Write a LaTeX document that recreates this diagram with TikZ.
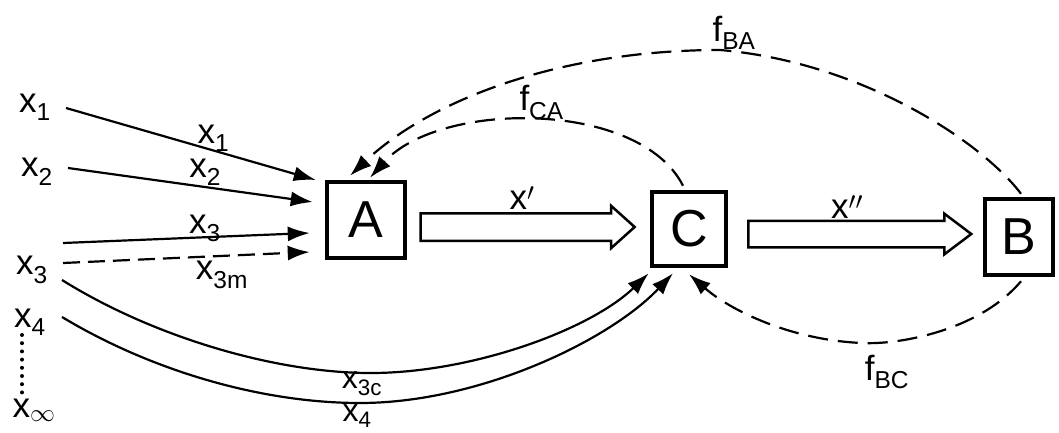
\documentclass[tikz,border=0pt]{standalone}
\usepackage{fontspec}
\setmainfont{Liberation Sans}
\usetikzlibrary{arrows.meta,shapes.arrows,calc}

\begin{document}
\begin{tikzpicture}[x=1pt,y=-1pt,
   every node/.style={font=\fontsize{35}{40}\selectfont,inner sep=0pt},
   blok/.style={draw,line width=4.5pt,minimum width=78pt,minimum height=78pt,
      font=\fontsize{52}{56}\selectfont},
   fat/.style={draw,line width=2.5pt,single arrow,inner xsep=0pt,inner ysep=12.5pt,
      single arrow head extend=7.5pt},
   flow/.style={line width=2.2pt,-{Latex[length=22pt,width=15pt]}},
   fb/.style={flow,dash pattern=on 20pt off 10pt},
   low/.style={font=\fontsize{32}{36}\selectfont}]
\useasboundingbox (0,0) rectangle (1059,433);
% boxes
\node[blok,minimum height=76pt] (A) at (366,220) {A};
\node[blok,minimum width=74pt,minimum height=74pt] (C) at (689,229) {C};
\node[blok,minimum width=68pt,minimum height=76pt] (B) at (1019,237) {B};
% inputs
\node (in1) at (35,107) {x\textsubscript{1}};
\node (in2) at (37,172) {x\textsubscript{2}};
\node (in3) at (32,270) {x\textsubscript{3}};
\node (in4) at (30,322) {x\textsubscript{4}};
\node (inf) at (34,410) {x\textsubscript{$\infty$}};
\foreach \k in {0,...,7}
  \fill (22,335+8.2*\k) circle (2pt);
\draw[flow] ($(in1.east)+(15,1)$) -- ($(A.west)+(-9,-40)$)
   node[pos=0.59,yshift=12pt] {x\textsubscript{1}};
\draw[flow] ($(in2.east)+(15,-4)$) -- ($(A.west)+(-12,-18)$)
   node[pos=0.56,yshift=15pt] {x\textsubscript{2}};
\draw[flow] ($(in3.east)+(15,-27)$) -- ($(A.west)+(-15,13)$)
   node[pos=0.575,yshift=9pt] {x\textsubscript{3}};
\draw[flow,dash pattern=on 17pt off 8pt] ($(in3.east)+(15,-7)$) -- ($(A.west)+(-15,32)$)
   node[pos=0.644,yshift=-19pt] {x\textsubscript{3m}};
\draw[flow] ($(in3.east)+(14,10)$) .. controls (150,335) and (270,372) .. (367,373)
   node[low,pos=1,xshift=-5pt,yshift=-11pt] {x\textsubscript{3c}}
   .. controls (470,374) and (590,330) .. ($(C.south west)+(-1,5)$);
\draw[flow] ($(in4.east)+(16,-5)$) .. controls (150,370) and (260,403) .. (360,403)
   node[low,pos=1,xshift=-3pt,yshift=-13pt] {x\textsubscript{4}}
   .. controls (480,403) and (610,340) .. ($(C.south)+(-16,5)$);
% main flow
\node[fat,minimum height=214pt,single arrow tip angle=84] (xa) at (520,227) {};
\node (xp) at (522,198) {x$'$};
\node[fat,minimum height=223pt,inner ysep=12pt,single arrow head extend=7pt,
   single arrow tip angle=74] (xb) at (851,234) {};
\node (xpp) at (847,207) {x$''$};
% feedback
\draw[fb] ($(C.north)+(-6,-4)$) .. controls (640,100) and (440,100) .. ($(A.north)+(4,-2)$)
   node[pos=0.5,xshift=5pt,yshift=18pt] {f\textsubscript{CA}};
\draw[fb] ($(B.north)+(2,-3)$) .. controls (980,140) and (860,62) .. (720,50)
   node[pos=1,xshift=14pt,yshift=17pt] {f\textsubscript{BA}}
   .. controls (560,50) and (430,100) .. ($(A.north)+(-16,-4)$);
\draw[fb] ($(B.south)+(2,4)$) .. controls (980,330) and (900,345) .. (862,343)
   node[pos=1,xshift=25pt,yshift=-29pt] {f\textsubscript{BC}}
   .. controls (790,340) and (730,310) .. ($(C.south)+(0,6)$);
\end{tikzpicture}
\end{document}
